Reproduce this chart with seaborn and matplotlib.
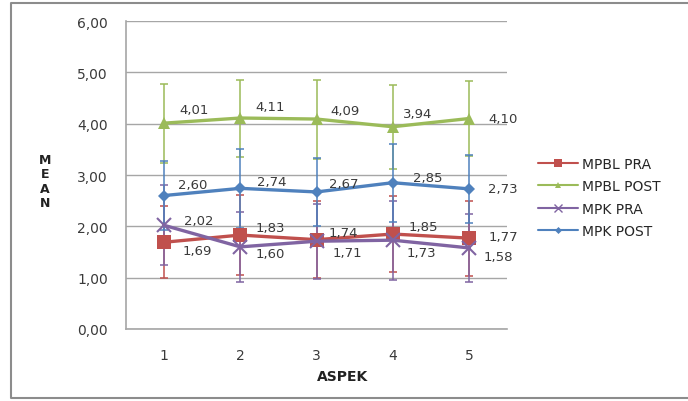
import matplotlib
matplotlib.use("Agg")
import matplotlib.pyplot as plt
from matplotlib.lines import Line2D
import pandas as pd
import seaborn as sns

sns.set_style("white")
plt.rcParams['font.family'] = ['DejaVu Sans']

# data
aspek = [1, 2, 3, 4, 5]
series_names = ["MPBL PRA", "MPBL POST", "MPK PRA", "MPK POST"]
mpbl_pra = [1.69, 1.83, 1.74, 1.85, 1.77]
mpbl_post = [4.01, 4.11, 4.09, 3.94, 4.10]
mpk_pra = [2.02, 1.60, 1.71, 1.73, 1.58]
mpk_post = [2.60, 2.74, 2.67, 2.85, 2.73]
# error bar half-lengths (sd), estimated
err_mpbl_pra = [0.70, 0.78, 0.75, 0.74, 0.73]
err_mpbl_post = [0.77, 0.75, 0.77, 0.82, 0.73]
err_mpk_pra = [0.78, 0.68, 0.73, 0.77, 0.66]
err_mpk_post = [0.68, 0.77, 0.67, 0.76, 0.66]

values = [mpbl_pra, mpbl_post, mpk_pra, mpk_post]
errors = [err_mpbl_pra, err_mpbl_post, err_mpk_pra, err_mpk_post]

# styles
colors = ["#C0504D", "#9BBB59", "#8064A2", "#4F81BD"]
markers = ["s", "^", "x", "D"]
msizes = [10, 9, 10, 6.5]
# data label offsets in pixels (dx right, dy up)
label_off = [
    [(18, -8), (15, 8), (12, 7), (16, 8), (20, 2)],
    [(15, 14), (15, 12), (14, 9), (10, 13), (19, 0)],
    [(20, 5), (15, -7), (16, -11), (14, -12), (15, -9)],
    [(14, 11), (17, 7), (12, 8), (20, 5), (19, 0)],
]

df = pd.DataFrame({
    "aspek": aspek * 4,
    "mean": sum(values, []),
    "group": [n for n in series_names for _ in aspek],
})

fig = plt.figure(figsize=(6.88, 4.02), dpi=100)
W, H = 688, 402
ax = fig.add_axes([126 / W, (H - 330) / H, (507 - 126) / W, (330 - 22) / H])

grid_c = "#A6A6A6"
text_c = "#3A3A3A"
for i, name in enumerate(series_names):
    ax.errorbar(aspek, values[i], yerr=errors[i], fmt="none", ecolor=colors[i],
                elinewidth=1.1, capsize=3, capthick=1.1, zorder=2)

for i, name in enumerate(series_names):
    sub = df[df["group"] == name]
    sns.lineplot(data=sub, x="aspek", y="mean", ax=ax, color=colors[i],
                 marker=markers[i], markersize=msizes[i], linewidth=2.4,
                 markeredgewidth=1.5 if markers[i] == "x" else 0,
                 markeredgecolor=colors[i], legend=False, zorder=3 + i)

px = 72 / 100
for i in range(4):
    for j, x in enumerate(aspek):
        dx, dy = label_off[i][j]
        ax.annotate(f"{values[i][j]:.2f}".replace(".", ","), (x, values[i][j]),
                    xytext=(dx * px, dy * px), textcoords="offset points",
                    ha="left", va="center", fontsize=9.5, color=text_c,
                    zorder=10)

ax.set_xlim(0.5, 5.5)
ax.set_ylim(0, 6)
ax.set_yticks([0, 1, 2, 3, 4, 5, 6])
ax.set_yticklabels([f"{v:.2f}".replace(".", ",") for v in range(7)])
ax.set_xticks(aspek)
ax.set_xticklabels([str(a) for a in aspek])
ax.set_xticks([0.5, 1.5, 2.5, 3.5, 4.5, 5.5], minor=True)
ax.tick_params(axis="x", which="major", length=0, pad=14, labelsize=10, labelcolor=text_c)
ax.tick_params(axis="x", which="minor", length=4, color=grid_c, direction="out")
ax.tick_params(axis="y", length=5, color=grid_c, direction="out", pad=8,
               labelsize=10, labelcolor=text_c)
ax.yaxis.grid(True, color=grid_c, linewidth=1)
ax.set_axisbelow(True)
for s in ["top", "right"]:
    ax.spines[s].set_visible(False)
for s in ["left", "bottom"]:
    ax.spines[s].set_color(grid_c)
    ax.spines[s].set_linewidth(1.2)
ax.set_xlabel("")
ax.set_ylabel("")

fig.text(343 / W, 1 - 377 / H, "ASPEK", ha="center", va="center",
         fontsize=10, fontweight="bold", color="#222222")
fig.text(45 / W, 1 - 182 / H, "M\nE\nA\nN", ha="center", va="center",
         fontsize=9, fontweight="bold", color="#222222", linespacing=1.15)

handles = [Line2D([0], [0], color=colors[i], marker=markers[i], lw=1.5,
                  markersize=msizes[i] * 0.55, markeredgewidth=1 if markers[i] == "x" else 0,
                  markeredgecolor=colors[i]) for i in range(4)]
fig.legend(handles, series_names, loc="upper left",
           bbox_to_anchor=(538 / W, 1 - 158 / H), frameon=False,
           fontsize=10, handlelength=2.9, handletextpad=0.3,
           labelspacing=0.6, borderaxespad=0, borderpad=0)

# outer frame (left, top, bottom edges)
frame_x = [W + 5, 11, 11, W + 5]
frame_y = [4, 4, 399, 399]
fig.add_artist(Line2D([x / W for x in frame_x], [1 - y / H for y in frame_y],
                      transform=fig.transFigure, color="#8C8C8C", linewidth=1.5))

fig.savefig("out.png", dpi=100)
